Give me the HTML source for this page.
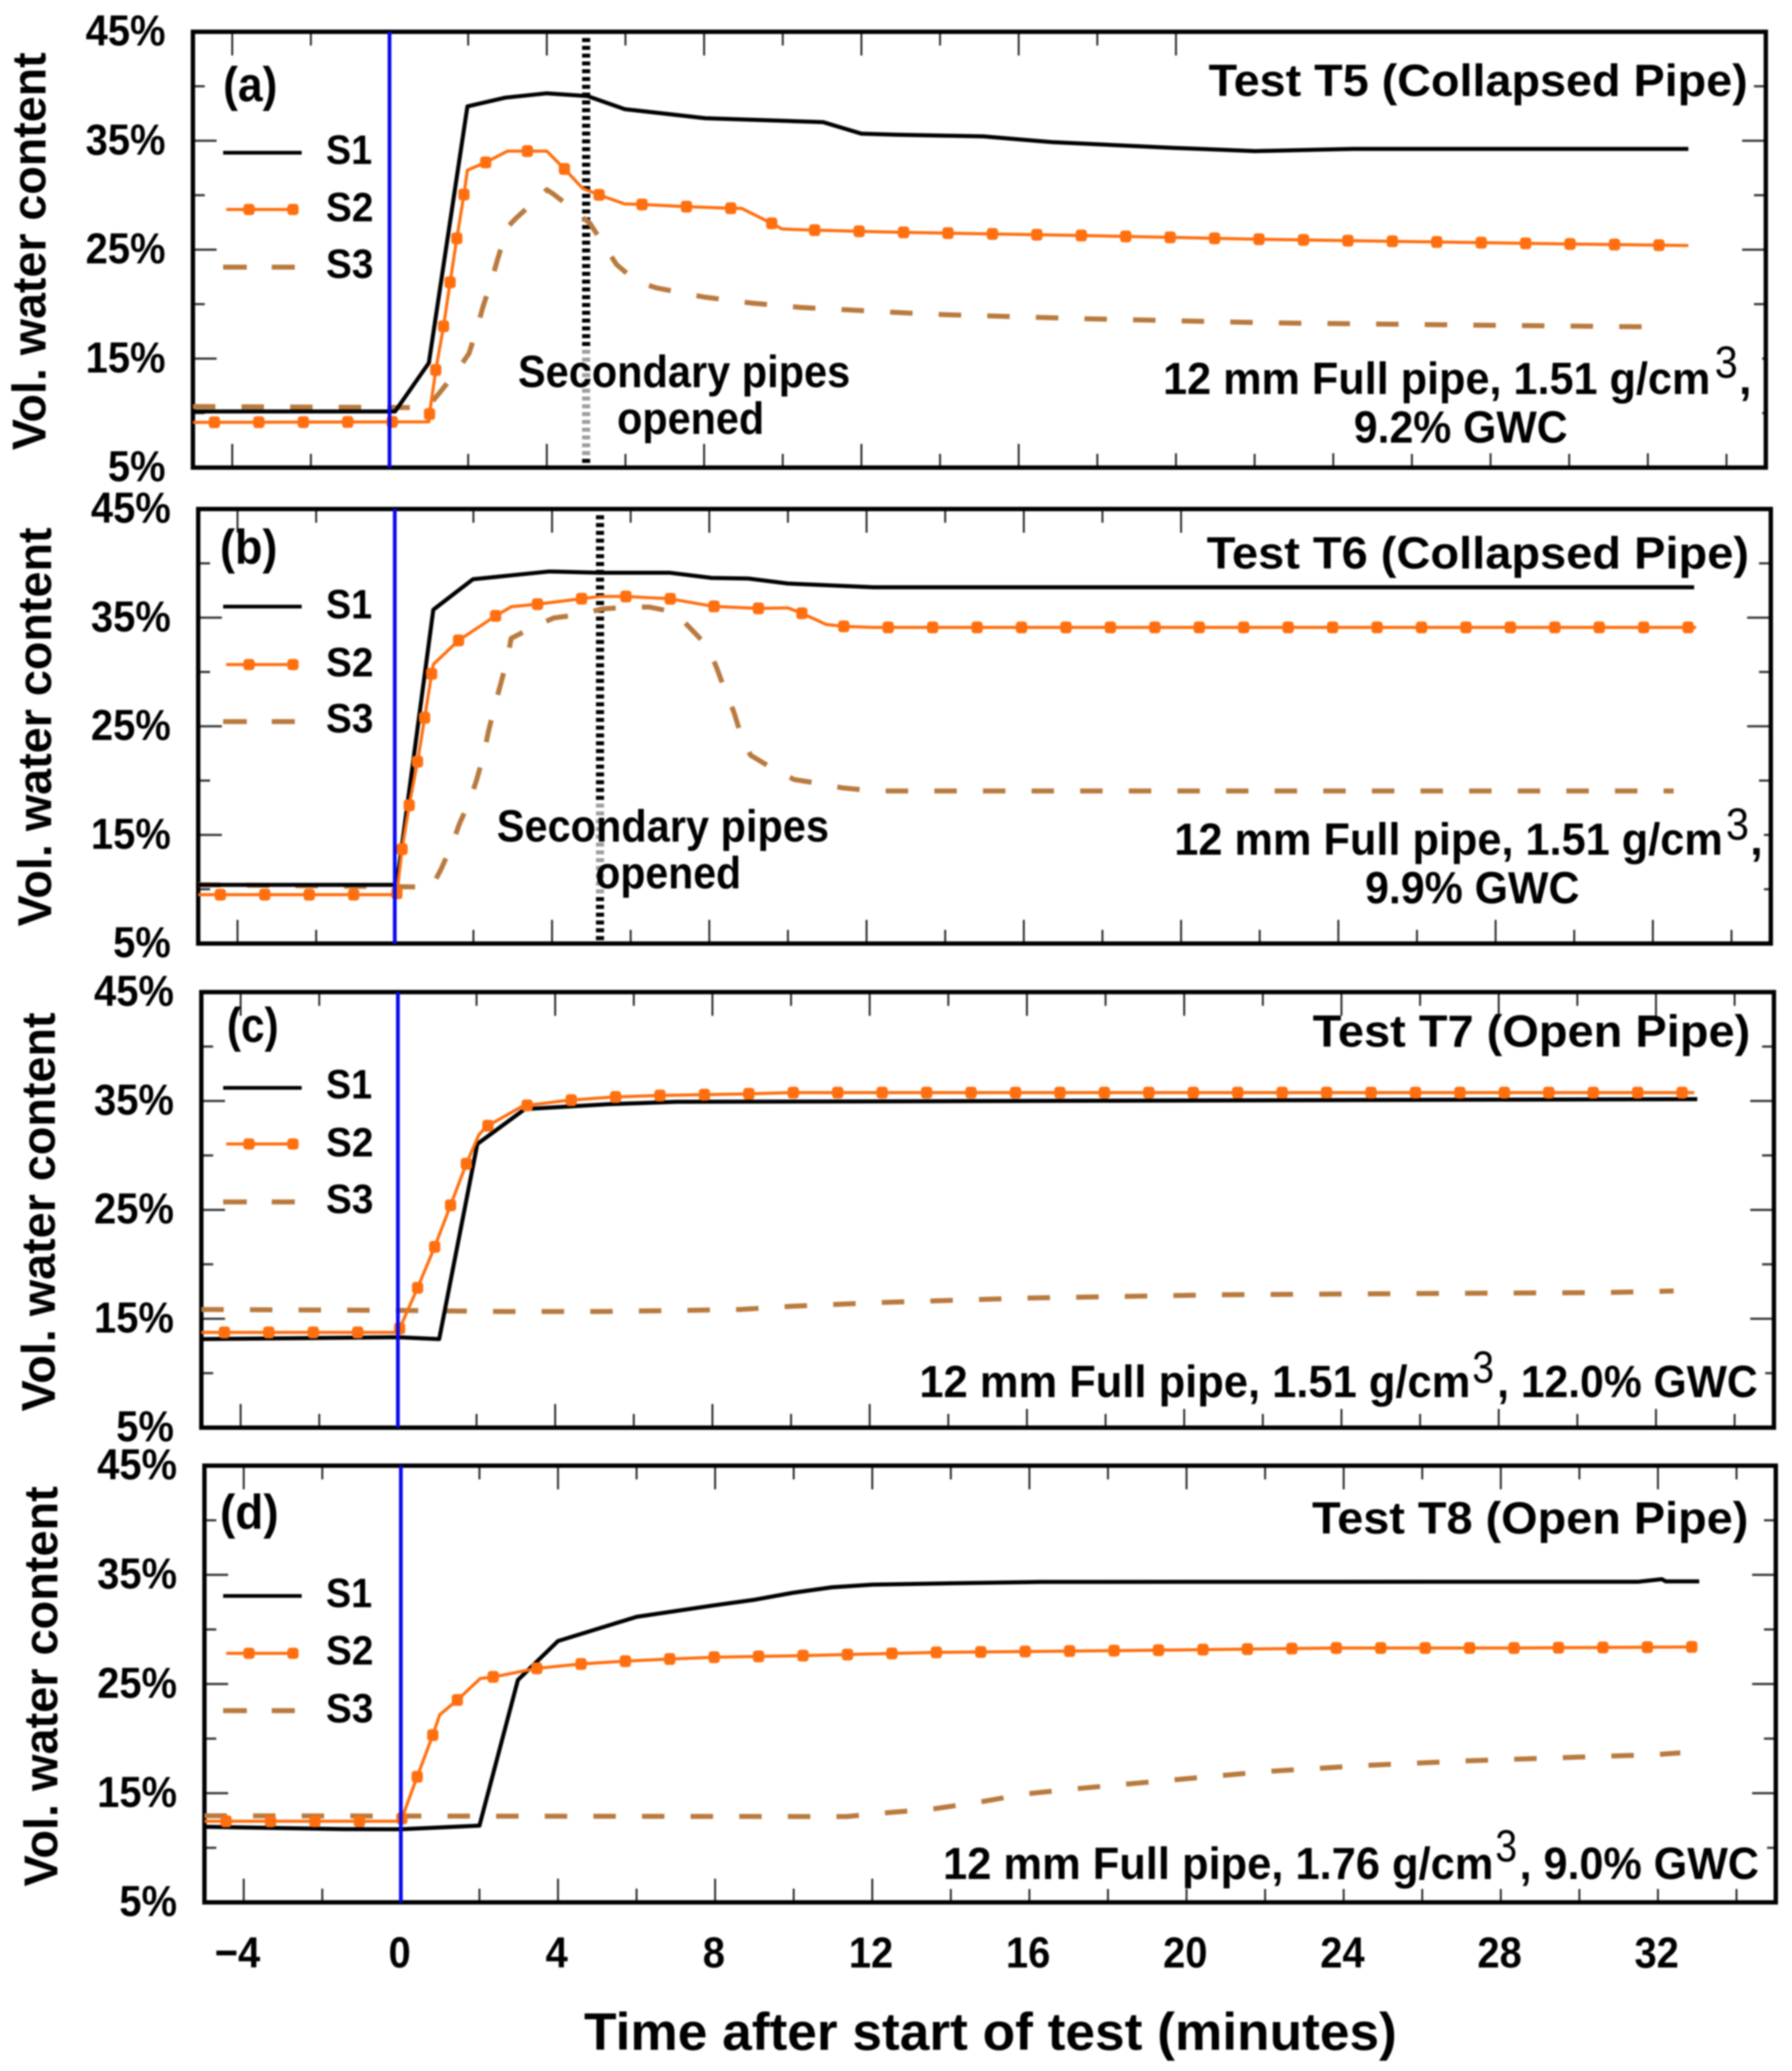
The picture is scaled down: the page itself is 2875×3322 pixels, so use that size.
<!DOCTYPE html>
<html lang="en">
<head>
<meta charset="utf-8">
<title>Volumetric water content after start of test</title>
<style>
html,body{margin:0;padding:0;background:#fff;}
#chart{display:block;width:2875px;height:3322px;filter:blur(1.2px);}
text{font-family:"Liberation Sans",Arial,sans-serif;font-weight:bold;fill:#000;}
.tick-label{font-size:70px;}
.axis-title{font-size:76px;}
.plain{font-size:72px;}
.legend-text{font-size:66px;}
</style>
</head>
<body>
<svg id="chart" xmlns="http://www.w3.org/2000/svg" width="2875" height="3322" viewBox="0 0 2875 3322">
<rect x="0" y="0" width="2875" height="3322" fill="#fff"/>
<g id="plots"></g>

<g>
<text class="axis-title" transform="translate(73,403) rotate(-90)" text-anchor="middle" textLength="638" lengthAdjust="spacingAndGlyphs">Vol. water content</text>
<text class="plain" style="font-size:78px" x="358" y="162" textLength="87" lengthAdjust="spacingAndGlyphs">(a)</text>
<text class="plain" x="1939" y="154" textLength="865" lengthAdjust="spacingAndGlyphs">Test T5 (Collapsed Pipe)</text>
<text class="plain" x="831" y="621" textLength="533" lengthAdjust="spacingAndGlyphs">Secondary pipes</text>
<text class="plain" x="990" y="696" textLength="236" lengthAdjust="spacingAndGlyphs">opened</text>
<text class="plain" x="1866" y="632" textLength="878" lengthAdjust="spacingAndGlyphs">12 mm Full pipe, 1.51 g/cm</text>
<text class="plain" x="2751" y="606" font-weight="normal" style="font-weight:normal" textLength="37" lengthAdjust="spacingAndGlyphs">3</text>
<text class="plain" x="2790" y="632">,</text>
<text class="plain" x="2172" y="710" textLength="343" lengthAdjust="spacingAndGlyphs">9.2% GWC</text>
<line x1="358" x2="484" y1="245" y2="245" stroke="#000" stroke-width="6"/>
<text class="legend-text" x="523" y="263" textLength="74" lengthAdjust="spacingAndGlyphs">S1</text>
<line x1="363" x2="478" y1="336" y2="336" stroke="#ff6f0f" stroke-width="5"/>
<rect x="390.500" y="327" width="18" height="18" rx="5" fill="#ff6f0f"/>
<rect x="461" y="327" width="18" height="18" rx="5" fill="#ff6f0f"/>
<text class="legend-text" x="523" y="355" textLength="76" lengthAdjust="spacingAndGlyphs">S2</text>
<line x1="358" x2="473" y1="428.500" y2="428.500" stroke="#b97a3e" stroke-width="8" stroke-dasharray="38 40"/>
<text class="legend-text" x="523" y="446" textLength="76" lengthAdjust="spacingAndGlyphs">S3</text>
</g>

<g>
<text class="axis-title" transform="translate(82,1166) rotate(-90)" text-anchor="middle" textLength="640" lengthAdjust="spacingAndGlyphs">Vol. water content</text>
<text class="plain" style="font-size:78px" x="353" y="904" textLength="92" lengthAdjust="spacingAndGlyphs">(b)</text>
<text class="plain" x="1936" y="912" textLength="870" lengthAdjust="spacingAndGlyphs">Test T6 (Collapsed Pipe)</text>
<text class="plain" x="797" y="1350" textLength="533" lengthAdjust="spacingAndGlyphs">Secondary pipes</text>
<text class="plain" x="955" y="1425" textLength="234" lengthAdjust="spacingAndGlyphs">opened</text>
<text class="plain" x="1884" y="1371" textLength="880" lengthAdjust="spacingAndGlyphs">12 mm Full pipe, 1.51 g/cm</text>
<text class="plain" x="2769" y="1347" style="font-weight:normal" textLength="37" lengthAdjust="spacingAndGlyphs">3</text>
<text class="plain" x="2808" y="1371">,</text>
<text class="plain" x="2190" y="1449" textLength="344" lengthAdjust="spacingAndGlyphs">9.9% GWC</text>
<line x1="358" x2="484" y1="973" y2="973" stroke="#000" stroke-width="6"/>
<text class="legend-text" x="523" y="992" textLength="74" lengthAdjust="spacingAndGlyphs">S1</text>
<line x1="363" x2="478" y1="1066" y2="1066" stroke="#ff6f0f" stroke-width="5"/>
<rect x="390.500" y="1057" width="18" height="18" rx="5" fill="#ff6f0f"/>
<rect x="461" y="1057" width="18" height="18" rx="5" fill="#ff6f0f"/>
<text class="legend-text" x="523" y="1085" textLength="76" lengthAdjust="spacingAndGlyphs">S2</text>
<line x1="358" x2="473" y1="1157.500" y2="1157.500" stroke="#b97a3e" stroke-width="8" stroke-dasharray="38 40"/>
<text class="legend-text" x="523" y="1175" textLength="76" lengthAdjust="spacingAndGlyphs">S3</text>
</g>

<g>
<text class="axis-title" transform="translate(88,1944) rotate(-90)" text-anchor="middle" textLength="640" lengthAdjust="spacingAndGlyphs">Vol. water content</text>
<text class="plain" style="font-size:78px" x="364" y="1671" textLength="83" lengthAdjust="spacingAndGlyphs">(c)</text>
<text class="plain" x="2106" y="1679" textLength="702" lengthAdjust="spacingAndGlyphs">Test T7 (Open Pipe)</text>
<text class="plain" x="1475" y="2241" textLength="884" lengthAdjust="spacingAndGlyphs">12 mm Full pipe, 1.51 g/cm</text>
<text class="plain" x="2362" y="2218" style="font-weight:normal" textLength="35" lengthAdjust="spacingAndGlyphs">3</text>
<text class="plain" x="2402" y="2241" textLength="418" lengthAdjust="spacingAndGlyphs">, 12.0% GWC</text>
<line x1="358" x2="484" y1="1745" y2="1745" stroke="#000" stroke-width="6"/>
<text class="legend-text" x="523" y="1762" textLength="74" lengthAdjust="spacingAndGlyphs">S1</text>
<line x1="363" x2="478" y1="1835" y2="1835" stroke="#ff6f0f" stroke-width="5"/>
<rect x="390.500" y="1826" width="18" height="18" rx="5" fill="#ff6f0f"/>
<rect x="461" y="1826" width="18" height="18" rx="5" fill="#ff6f0f"/>
<text class="legend-text" x="523" y="1855" textLength="76" lengthAdjust="spacingAndGlyphs">S2</text>
<line x1="358" x2="473" y1="1928" y2="1928" stroke="#b97a3e" stroke-width="8" stroke-dasharray="38 40"/>
<text class="legend-text" x="523" y="1946" textLength="76" lengthAdjust="spacingAndGlyphs">S3</text>
</g>

<g>
<text class="axis-title" transform="translate(92,2705) rotate(-90)" text-anchor="middle" textLength="642" lengthAdjust="spacingAndGlyphs">Vol. water content</text>
<text class="plain" style="font-size:78px" x="353" y="2452" textLength="94" lengthAdjust="spacingAndGlyphs">(d)</text>
<text class="plain" x="2105" y="2460" textLength="700" lengthAdjust="spacingAndGlyphs">Test T8 (Open Pipe)</text>
<text class="plain" x="1513" y="3014" textLength="883" lengthAdjust="spacingAndGlyphs">12 mm Full pipe, 1.76 g/cm</text>
<text class="plain" x="2399" y="2986" style="font-weight:normal" textLength="35" lengthAdjust="spacingAndGlyphs">3</text>
<text class="plain" x="2438" y="3014" textLength="384" lengthAdjust="spacingAndGlyphs">, 9.0% GWC</text>
<line x1="358" x2="484" y1="2560" y2="2560" stroke="#000" stroke-width="6"/>
<text class="legend-text" x="523" y="2578" textLength="74" lengthAdjust="spacingAndGlyphs">S1</text>
<line x1="363" x2="478" y1="2652" y2="2652" stroke="#ff6f0f" stroke-width="5"/>
<rect x="390.500" y="2643" width="18" height="18" rx="5" fill="#ff6f0f"/>
<rect x="461" y="2643" width="18" height="18" rx="5" fill="#ff6f0f"/>
<text class="legend-text" x="523" y="2670" textLength="76" lengthAdjust="spacingAndGlyphs">S2</text>
<line x1="358" x2="473" y1="2744" y2="2744" stroke="#b97a3e" stroke-width="8" stroke-dasharray="38 40"/>
<text class="legend-text" x="523" y="2763" textLength="76" lengthAdjust="spacingAndGlyphs">S3</text>
</g>

<text style="font-size:84px" x="937" y="3288" textLength="1304" lengthAdjust="spacingAndGlyphs">Time after start of test (minutes)</text>
</svg>

<script>
// ---------- axis tick data ----------
const yTickValues = [45, 35, 25, 15, 5];
const yTickLabels = ['45%', '35%', '25%', '15%', '5%'];
const yMinorValues = [40, 30, 20, 10];
const xTickValues = [-4, 0, 4, 8, 12, 16, 20, 24, 28, 32];
const xTickLabels = ['\u22124', '0', '4', '8', '12', '16', '20', '24', '28', '32'];
const xMinorValues = [-2, 2, 6, 10, 14, 18, 22, 26, 30, 34];

// ---------- panel (a) Test T5 ----------
const aS1Time = [-5, 0.14, 1.0, 1.98, 2.94, 4.0, 5.03, 5.98, 8.03, 10.7, 11.03, 12.0, 12.9, 15.1, 16.85, 19.9, 22, 24.5, 30.8, 33.03];
const aS1Value = [10.15, 10.15, 14.6, 38.15, 38.95, 39.35, 39.1, 37.9, 37.07, 36.75, 36.7, 35.65, 35.55, 35.4, 34.87, 34.35, 34.05, 34.25, 34.25, 34.25];
const aS2Time = [-5, 1.0, 1.02, 1.18, 1.37, 1.54, 1.71, 1.89, 1.98, 2.44, 3.0, 3.5, 4.0, 4.45, 4.92, 5.35, 5.98, 6.44, 7.56, 8.7, 8.95, 9.73, 9.98, 10.7, 12.9, 17.6, 22.1, 28.9, 33.03];
const aS2Value = [9.15, 9.2, 10.0, 14.05, 17.9, 22.0, 26.0, 30.03, 32.3, 33.0, 34.05, 34.05, 34.05, 32.4, 30.6, 30.0, 29.2, 29.15, 28.95, 28.8, 28.8, 27.4, 26.9, 26.8, 26.6, 26.3, 25.96, 25.58, 25.38];
const aS3Time = [-5, 0.96, 1.28, 1.7, 2.02, 2.23, 2.37, 2.59, 2.73, 2.94, 3.02, 3.22, 3.72, 4.0, 4.15, 4.71, 5.1, 5.49, 5.77, 6.27, 6.78, 8.0, 9.2, 10.45, 13.8, 17.6, 22.4, 27.45, 32.5];
const aS3Value = [10.6, 10.5, 11.9, 13.8, 15.47, 17.8, 19.7, 22.1, 23.9, 26.4, 27.15, 27.9, 29.55, 30.5, 30.15, 28.6, 27.4, 25.2, 23.65, 22.1, 21.5, 20.65, 20.1, 19.7, 19.07, 18.67, 18.28, 18.08, 17.9];
const aOpenTime = [5.0];

// ---------- panel (b) Test T6 ----------
const bS1Time = [-5, 0.05, 0.98, 1.99, 3.93, 5.22, 7.0, 8.06, 8.99, 10, 12.17, 33.05];
const bS1Value = [10.4, 10.4, 35.73, 38.54, 39.25, 39.13, 39.13, 38.66, 38.6, 38.14, 37.8, 37.8];
const bS2Time = [-5, 0.05, 0.19, 0.37, 0.58, 0.76, 0.94, 0.98, 1.62, 2.56, 2.96, 3.65, 4.74, 5.22, 5.87, 7.0, 8.09, 9.23, 10.0, 10.36, 10.97, 11.41, 12.17, 33.1];
const bS2Value = [9.5, 9.5, 13.83, 17.8, 21.8, 25.8, 29.9, 30.7, 32.9, 35.15, 36.0, 36.25, 36.74, 36.95, 36.95, 36.74, 36.04, 35.85, 35.9, 35.4, 34.38, 34.2, 34.1, 34.1];
const bS3Time = [-5, 0.94, 1.18, 1.45, 1.65, 1.91, 2.09, 2.27, 2.38, 2.54, 2.69, 2.86, 2.96, 3.52, 4.05, 4.74, 5.27, 5.95, 6.48, 7.12, 7.51, 7.97, 8.18, 8.42, 8.62, 8.82, 9.05, 9.67, 10.16, 10.85, 11.37, 12.17, 32.53];
const bS3Value = [10.42, 10.2, 11.87, 14.07, 16.06, 18.17, 20.17, 22.5, 24.5, 26.84, 28.84, 31.16, 33.1, 34.14, 34.98, 35.3, 35.8, 35.97, 35.97, 35.5, 34.05, 32.3, 30.46, 28.1, 26.36, 24.03, 22.34, 20.98, 20.1, 19.7, 19.34, 19.05, 19.05];
const bOpenTime = [5.22];

// ---------- panel (c) Test T7 ----------
const cS1Time = [-5, 0, 1.05, 2.02, 3.23, 5.34, 7.09, 12.73, 33.05];
const cS1Value = [13.13, 13.3, 13.13, 31.05, 34.26, 34.7, 34.92, 34.97, 35.17];
const cS2Time = [-5, 0, 0.49, 0.93, 1.34, 1.73, 2.06, 2.25, 3.18, 4.32, 5.45, 6.6, 8.83, 10, 12.73, 32.97];
const cS2Value = [13.75, 13.75, 17.75, 21.55, 25.43, 29.14, 31.9, 32.65, 34.55, 35.06, 35.36, 35.5, 35.65, 35.77, 35.77, 35.77];
const cS3Time = [-5, 0, 2.72, 5.05, 7.38, 8.69, 10, 12.18, 15.98, 20.9, 27, 30.7, 32.45];
const cS3Value = [15.85, 15.77, 15.66, 15.66, 15.77, 15.85, 16.14, 16.48, 16.9, 17.2, 17.34, 17.4, 17.55];
const cOpenTime = [];

// ---------- panel (d) Test T8 ----------
const dS1Time = [-5, -1.47, 0, 2.0, 2.98, 4.0, 6.0, 7.96, 8.97, 9.97, 10.97, 12.0, 13.6, 16.3, 31.5, 32.1, 32.2, 33.05];
const dS1Value = [11.92, 11.71, 11.7, 12.03, 25.37, 28.94, 31.15, 32.2, 32.7, 33.35, 33.86, 34.1, 34.2, 34.35, 34.37, 34.6, 34.4, 34.4];
const dS2Time = [-5, 0, 0.42, 0.81, 0.99, 1.45, 2.02, 2.41, 3.45, 4.6, 5.73, 6.87, 8.0, 10.25, 12.5, 13.66, 19.3, 23.8, 28.3, 33.0];
const dS2Value = [12.43, 12.43, 16.56, 20.3, 22.18, 23.57, 25.5, 25.68, 26.43, 26.84, 27.1, 27.29, 27.46, 27.6, 27.8, 27.9, 28.1, 28.3, 28.3, 28.4];
const dS3Time = [-5, 11.34, 12.5, 13.5, 14.75, 15.9, 17.15, 19.6, 22.1, 24.55, 27.17, 29.5, 31.96, 32.57];
const dS3Value = [12.93, 12.86, 13.25, 13.53, 14.2, 14.93, 15.4, 16.2, 17.0, 17.54, 17.97, 18.25, 18.54, 18.7];
const dOpenTime = [];

const NS = 'http://www.w3.org/2000/svg';
const plots = document.getElementById('plots');

function make(tag, attrs, parent) {
  const e = document.createElementNS(NS, tag);
  for (const k in attrs) e.setAttribute(k, attrs[k]);
  parent.appendChild(e);
  return e;
}

function labelWidth(s) {
  let w = 0;
  for (const ch of s) w += ch === '%' ? 0.889 : (ch === '\u2212' ? 0.584 : 0.556);
  return (w * 64).toFixed(1);
}

function drawPanel(id, box, s1t, s1v, s2t, s2v, s3t, s3v, openT, masks, firstMarker) {
  const k = (box.right - box.left) / 40;
  const zero = box.left + 5 * k;
  const xs = function (t) { return zero + t * k; };
  const ys = function (v) { return box.bottom - (v - 5) * (box.bottom - box.top) / 40; };
  const pts = function (ts, vs) { return ts.map(function (t, i) { return (i ? 'L' : 'M') + xs(t).toFixed(1) + ' ' + ys(vs[i]).toFixed(1); }).join(' '); };

  const g = make('g', {}, plots);
  
  

  // x ticks (major and minor, top and bottom)
  [[xTickValues, 38], [xMinorValues, 22]].forEach(function (set) {
    set[0].forEach(function (t) {
      const top = make('line', {x1: xs(t), x2: xs(t), y1: box.top, y2: box.top + set[1], stroke: '#222', 'stroke-width': 3}, g);
      
      
      const bot = make('line', {x1: xs(t), x2: xs(t), y1: box.bottom, y2: box.bottom - set[1], stroke: '#222', 'stroke-width': 3}, g);
      
      
    });
  });
  // y ticks (major and minor, left and right)
  [[yTickValues, 38], [yMinorValues, 19]].forEach(function (set) {
    set[0].forEach(function (v) {
      const l = make('line', {x1: box.left, x2: box.left + set[1], y1: ys(v), y2: ys(v), stroke: '#333', 'stroke-width': 3.5}, g);
      
      
      const r = make('line', {x1: box.right, x2: box.right - set[1], y1: ys(v), y2: ys(v), stroke: '#333', 'stroke-width': 3.5}, g);
      
      
    });
  });
  // white text backings that hide ticks in the reference
  masks.forEach(function (m) {
    const r = make('rect', {x: m[0], y: m[1], width: m[2], height: m[3], fill: '#fff'}, g);
    
    
  });
  // frame
  const frame = make('rect', {x: box.left, y: box.top, width: box.right - box.left, height: box.bottom - box.top, fill: 'none', stroke: '#000', 'stroke-width': 7}, g);
  
  

  // y tick labels
  yTickValues.forEach(function (v, i) {
    const t = make('text', {x: box.left - 44, y: ys(v) + 22, 'text-anchor': 'end', 'class': 'tick-label', textLength: labelWidth(yTickLabels[i]), lengthAdjust: 'spacingAndGlyphs'}, g);
    t.textContent = yTickLabels[i];
    
    
  });

  // secondary-pipes dotted marker
  openT.forEach(function (t) {
    const dot = make('line', {x1: xs(t), x2: xs(t), y1: box.top + 10, y2: box.bottom, stroke: '#000', 'stroke-width': 13, 'stroke-dasharray': '6.5 6'}, g);
    
    
    const fade = make('rect', {x: xs(t) - 10, y: box.fadeTop, width: 20, height: box.fadeHeight, fill: '#fff', 'fill-opacity': 0.62}, g);
    
    
  });

  // S3 dashed
  const p3 = make('path', {d: pts(s3t, s3v), fill: 'none', stroke: '#b97a3e', 'stroke-width': 8, 'stroke-dasharray': '36 42', 'stroke-linejoin': 'round'}, g);
  
  
  // S1 solid
  const p1 = make('path', {d: pts(s1t, s1v), fill: 'none', stroke: '#000', 'stroke-width': 6.5, 'stroke-linejoin': 'round'}, g);
  
  
  // S2 with markers at equal path spacing
  const p2 = make('path', {d: pts(s2t, s2v), fill: 'none', stroke: '#ff6f0f', 'stroke-width': 5, 'stroke-linejoin': 'round'}, g);
  
  
  const total = p2.getTotalLength();
  for (let d = firstMarker; d < total - 4; d += 71.3) {
    const q = p2.getPointAtLength(d);
    const m = make('rect', {x: q.x - 9, y: q.y - 9.5, width: 18, height: 19, rx: 5, fill: '#ff6f0f'}, g);
    
    
  }

  // test-start line at time zero
  const blue = make('line', {x1: xs(0), x2: xs(0), y1: box.top, y2: box.bottom, stroke: '#0808ee', 'stroke-width': 6}, g);
  
  

  if (box.showXLabels) {
    xTickValues.forEach(function (t, i) {
      const lab = make('text', {x: xs(t) + (t < 0 ? -10 : -2), y: 3156, 'text-anchor': 'middle', 'class': 'tick-label', textLength: labelWidth(xTickLabels[i]), lengthAdjust: 'spacingAndGlyphs'}, g);
      lab.textContent = xTickLabels[i];
      
      
    });
  }
}

drawPanel('a', {left: 309.5, right: 2833, top: 51, bottom: 750, fadeTop: 559, fadeHeight: 176},
  aS1Time, aS1Value, aS2Time, aS2Value, aS3Time, aS3Value, aOpenTime,
  [[1900, 54, 912, 136], [1860, 540, 967, 187]], 34.5);
drawPanel('b', {left: 318, right: 2841, top: 816.5, bottom: 1513.5, fadeTop: 1288, fadeHeight: 147},
  bS1Time, bS1Value, bS2Time, bS2Value, bS3Time, bS3Value, bOpenTime,
  [[1900, 820, 915, 105], [1860, 1330, 970, 140]], 35.5);
drawPanel('c', {left: 323, right: 2846, top: 1591.4, bottom: 2290, fadeTop: 0, fadeHeight: 0},
  cS1Time, cS1Value, cS2Time, cS2Value, cS3Time, cS3Value, cOpenTime,
  [[1470, 2170, 1362, 90]], 37);
drawPanel('d', {left: 328, right: 2849, top: 2351, bottom: 3051.5, fadeTop: 0, fadeHeight: 0, showXLabels: true},
  dS1Time, dS1Value, dS2Time, dS2Value, dS3Time, dS3Value, dOpenTime,
  [[1500, 2945, 1335, 85]], 34.7);
</script>
</body>
</html>
